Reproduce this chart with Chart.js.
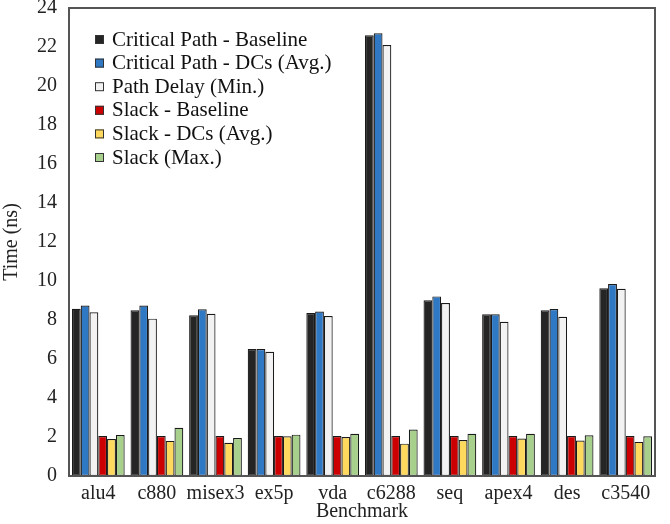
<!DOCTYPE html>
<html>
<head>
<meta charset="utf-8">
<script src="https://cdn.jsdelivr.net/npm/chart.js@4.4.0/dist/chart.umd.min.js"></script>
<style>
  html, body { margin: 0; padding: 0; background: #fff; }
  #wrap { width: 670px; height: 524px; }
</style>
</head>
<body>
<div id="wrap"><canvas id="bar-chart"></canvas></div>
<script>
// benchmark names on the x axis
var benchmarks = ["alu4", "c880", "misex3", "ex5p", "vda", "c6288", "seq", "apex4", "des", "c3540"];

// times in ns
var critBaseline = [8.58, 8.50, 8.24, 6.51, 8.36, 22.60, 9.01, 8.29, 8.50, 9.63];
var critDCs      = [8.74, 8.74, 8.55, 6.51, 8.43, 22.70, 9.21, 8.29, 8.56, 9.85];
var pathDelayMin = [8.40, 8.07, 8.32, 6.37, 8.20, 22.10, 8.87, 7.91, 8.17, 9.60];
var slackBase    = [2.05, 2.05, 2.05, 2.05, 2.05, 2.05, 2.05, 2.05, 2.05, 2.05];
var slackDCs     = [1.90, 1.80, 1.70, 2.04, 2.00, 1.66, 1.85, 1.92, 1.82, 1.75];
var slackMax     = [2.10, 2.47, 1.95, 2.12, 2.17, 2.38, 2.17, 2.17, 2.09, 2.04];

var yTicks = [0, 2, 4, 6, 8, 10, 12, 14, 16, 18, 20, 22, 24];

var serif = "'Liberation Serif', 'Times New Roman', serif";

function series(label, data, color) {
  return {
    label: label,
    data: data,
    backgroundColor: color,
    borderColor: "#1a1a1a",
    borderWidth: 1.2,
    borderSkipped: false
  };
}

// legend drawn inside the plot, top left
var innerLegend = {
  id: "innerLegend",
  afterDraw: function(chart) {
    var ctx = chart.ctx;
    var area = chart.chartArea;
    ctx.save();
    ctx.font = "21px " + serif;
    ctx.textBaseline = "middle";
    chart.data.datasets.forEach(function(ds, i) {
      var y = area.top + 31 + i * 23.6;
      var x = area.left + 26;
      ctx.fillStyle = ds.backgroundColor;
      ctx.fillRect(x, y - 4, 9, 9);
      ctx.strokeStyle = "#333";
      ctx.lineWidth = 1;
      ctx.strokeRect(x + 0.5, y - 3.5, 8, 8);
      ctx.fillStyle = "#111";
      ctx.fillText(ds.label, x + 17, y + 1);
    });
    ctx.restore();
  }
};

// box round the plot area
var frame = {
  id: "frame",
  afterDatasetsDraw: function(chart) {
    var a = chart.chartArea;
    var ctx = chart.ctx;
    ctx.save();
    ctx.strokeStyle = "#555";
    ctx.lineWidth = 2;
    ctx.strokeRect(a.left, a.top, a.right - a.left, a.bottom - a.top);
    ctx.restore();
  }
};

new Chart(document.getElementById("bar-chart"), {
  type: "bar",
  data: {
    labels: benchmarks,
    datasets: [
      series("Critical Path - Baseline", critBaseline, "#252525"),
      series("Critical Path - DCs (Avg.)", critDCs, "#2f78c4"),
      series("Path Delay (Min.)", pathDelayMin, "#f2f2f2"),
      series("Slack - Baseline", slackBase, "#cc0000"),
      series("Slack - DCs (Avg.)", slackDCs, "#ffd95e"),
      series("Slack (Max.)", slackMax, "#a8d08d")
    ]
  },
  options: {
    responsive: true,
    maintainAspectRatio: false,
    animation: false,
    layout: { padding: { left: 0, right: 15, top: 8, bottom: 0 } },
    plugins: {
      legend: { display: false },
      tooltip: { enabled: false }
    },
    datasets: {
      bar: { categoryPercentage: 0.9, barPercentage: 1.0 }
    },
    scales: {
      x: {
        grid: { display: false, drawTicks: false },
        border: { display: false },
        ticks: {
          color: "#222",
          font: { family: serif, size: 20 },
          padding: 6,
          maxRotation: 0,
          minRotation: 0,
          autoSkip: false
        },
        title: {
          display: true,
          text: "Benchmark",
          color: "#222",
          font: { family: serif, size: 20 },
          padding: { top: -4, bottom: 0 }
        },
        afterFit: function(scale) { scale.height = 48; }
      },
      y: {
        min: 0,
        max: 24,
        afterBuildTicks: function(scale) {
          scale.ticks = yTicks.map(function(v) { return { value: v }; });
        },
        grid: { display: false, drawTicks: false },
        border: { display: false },
        ticks: { color: "#222", font: { family: serif, size: 20 }, padding: 12 },
        title: {
          display: true,
          text: "Time (ns)",
          color: "#222",
          font: { family: serif, size: 20 },
          padding: { top: 0, bottom: 2 }
        },
        afterFit: function(scale) {
          scale.width = 69;
          scale.paddingTop = 0;
          scale.paddingBottom = 0;
        }
      }
    }
  },
  plugins: [innerLegend, frame]
});
</script>
</body>
</html>
